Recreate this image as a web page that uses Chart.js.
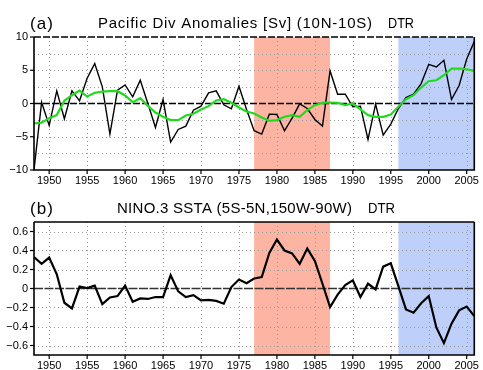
<!DOCTYPE html>
<html>
<head>
<meta charset="utf-8">
<script src="https://cdn.jsdelivr.net/npm/chart.js@4.4.1/dist/chart.umd.min.js"></script>
<style>
html,body{margin:0;padding:0;background:#fff;}
canvas{display:block;}
</style>
</head>
<body>
<canvas id="ca" width="483" height="185"></canvas>
<canvas id="cb" width="483" height="185"></canvas>
<script>
const years = [1948,1949,1950,1951,1952,1953,1954,1955,1956,1957,1958,1959,1960,1961,1962,1963,1964,1965,1966,1967,1968,1969,1970,1971,1972,1973,1974,1975,1976,1977,1978,1979,1980,1981,1982,1983,1984,1985,1986,1987,1988,1989,1990,1991,1992,1993,1994,1995,1996,1997,1998,1999,2000,2001,2002,2003,2004,2005,2006];

// (a) Pacific divergence anomalies [Sv], annual
const pacDiv = [-10.0,0.2,-3.3,1.9,-2.3,1.9,0.4,3.8,6.0,2.5,-4.6,2.0,2.8,1.0,3.5,0.0,-3.6,0.6,-5.8,-3.9,-3.4,-1.0,-0.4,1.6,1.9,-0.2,-0.8,2.6,-0.9,-4.1,-4.6,-1.6,-1.65,-4.1,-2.2,-0.05,-0.75,-2.4,-3.4,4.9,1.4,1.4,-0.5,-0.4,-5.4,-0.1,-4.75,-3.1,-0.75,0.9,1.4,3.0,5.9,5.5,6.5,0.6,2.7,6.7,9.3];
// (a) smoothed (green)
const pacDivSmooth = [-3.0,-2.9,-2.2,-1.75,0.4,1.25,1.95,1.05,1.6,1.8,1.85,1.85,1.2,0.2,0.8,-0.35,-1.35,-2.0,-2.5,-2.5,-1.8,-1.55,-0.9,-0.4,0.45,0.65,0.1,-0.6,-1.2,-1.5,-2.1,-2.6,-2.5,-2.0,-1.75,-2.0,-1.0,-0.25,0.1,0.15,0.1,-0.25,0.0,-0.9,-1.75,-2.0,-2.0,-1.65,-0.5,0.65,1.25,2.4,3.35,3.5,4.25,5.25,5.25,5.15,4.9];
// (b) NINO.3 SSTA
const nino3 = [0.33,0.26,0.325,0.15,-0.15,-0.21,0.02,0.005,0.03,-0.165,-0.095,-0.08,0.03,-0.14,-0.105,-0.11,-0.09,-0.09,0.14,-0.03,-0.09,-0.07,-0.125,-0.12,-0.13,-0.16,0.015,0.095,0.055,0.105,0.12,0.375,0.515,0.4,0.37,0.26,0.42,0.29,0.05,-0.195,-0.065,0.035,0.085,-0.09,0.05,-0.01,0.23,0.265,0.025,-0.22,-0.255,-0.155,-0.08,-0.41,-0.575,-0.37,-0.23,-0.19,-0.29];

const xTickYears = [1950,1955,1960,1965,1970,1975,1980,1985,1990,1995,2000,2005];
const yTicksA = [-10,-5,0,5,10];
const yTicksB = [-0.6,-0.4,-0.2,0,0.2,0.4,0.6];
const gridA = [-7.5,-5,-2.5,2.5,5,7.5];
const gridB = [-0.6,-0.4,-0.2,0.2,0.4,0.6];
const redPeriod = [1977,1987];
const bluePeriod = [1996,2006];
const titleA = ['(a)','Pacific Div Anomalies [Sv] (10N-10S)','DTR'];
const titleB = ['(b)','NINO.3 SSTA (5S-5N,150W-90W)','DTR'];

const FONT = '"Liberation Sans", Arial, Helvetica, sans-serif';
Chart.defaults.font.family = FONT;
Chart.defaults.font.size = 11;
Chart.defaults.color = '#000';

function pts(vals){ return years.map((yr,i)=>({x:yr, y:vals[i]})); }

function fitText(ctx, text, x0, x1, baseline, size){
  ctx.font = size + 'px ' + FONT;
  if ('letterSpacing' in ctx) ctx.letterSpacing = '0px';
  const w = ctx.measureText(text).width;
  const n = text.length;
  ctx.textAlign = 'left';
  ctx.textBaseline = 'alphabetic';
  if ('letterSpacing' in ctx && n > 1 && (x1 - x0) >= w){
    ctx.letterSpacing = ((x1 - x0 - w) / (n - 1)) + 'px';
    ctx.fillText(text, x0, baseline);
    ctx.letterSpacing = '0px';
  } else {
    ctx.save();
    ctx.translate(x0, baseline);
    ctx.scale((x1 - x0) / w, 1);
    ctx.fillText(text, 0, 0);
    ctx.restore();
  }
}

const panelPlugin = {
  id: 'panel',
  beforeDatasetsDraw(chart, args, o){
    const {ctx, chartArea:a, scales:{x, y}} = chart;
    ctx.save();
    const shade = (p, col) => {
      const x0 = x.getPixelForValue(p[0]), x1 = x.getPixelForValue(p[1]);
      ctx.fillStyle = col;
      ctx.fillRect(x0, a.top, x1 - x0, a.bottom - a.top);
    };
    shade(redPeriod, '#FDB4A2');
    shade(bluePeriod, '#BED0FA');
    ctx.strokeStyle = '#9A9A9A';
    ctx.lineWidth = 1;
    ctx.setLineDash([1,3]);
    xTickYears.forEach(v => {
      const px = Math.round(x.getPixelForValue(v)) + 0.5;
      ctx.beginPath(); ctx.moveTo(px, a.top); ctx.lineTo(px, a.bottom); ctx.stroke();
    });
    o.grid.forEach(v => {
      const py = Math.round(y.getPixelForValue(v)) + 0.5;
      ctx.beginPath(); ctx.moveTo(a.left, py); ctx.lineTo(a.right, py); ctx.stroke();
    });
    ctx.setLineDash(o.zeroDash);
    ctx.strokeStyle = o.zeroColor;
    ctx.lineWidth = o.zeroWidth;
    const pz = y.getPixelForValue(0);
    ctx.beginPath(); ctx.moveTo(a.left, pz); ctx.lineTo(a.right, pz); ctx.stroke();
    ctx.restore();
  },
  afterDatasetsDraw(chart, args, o){
    const {ctx, chartArea:a, scales:{x, y}} = chart;
    ctx.save();
    ctx.strokeStyle = '#000';
    ctx.lineWidth = 1.6;
    ctx.setLineDash([]);
    ctx.beginPath();
    ctx.moveTo(a.left, a.top); ctx.lineTo(a.left, a.bottom); ctx.lineTo(a.right, a.bottom); ctx.lineTo(a.right, a.top);
    ctx.stroke();
    ctx.setLineDash(o.topDash);
    ctx.beginPath(); ctx.moveTo(a.left, a.top); ctx.lineTo(a.right, a.top); ctx.stroke();
    ctx.setLineDash([]);
    ctx.lineWidth = 1.2;
    xTickYears.forEach(v => {
      const px = x.getPixelForValue(v);
      ctx.beginPath(); ctx.moveTo(px, a.bottom); ctx.lineTo(px, a.bottom + 4); ctx.stroke();
    });
    o.yTicks.forEach(v => {
      const py = y.getPixelForValue(v);
      ctx.beginPath(); ctx.moveTo(a.left - 4, py); ctx.lineTo(a.left, py); ctx.stroke();
    });
    ctx.fillStyle = '#000';
    const t = o.title;
    fitText(ctx, t.text[0], t.labelSpan[0], t.labelSpan[1], t.labelBase, 17);
    fitText(ctx, t.text[1], t.mainSpan[0], t.mainSpan[1], t.base, 15);
    fitText(ctx, t.text[2], t.dtrSpan[0], t.dtrSpan[1], t.base, 15);
    ctx.restore();
  }
};

function fmtA(v){ return (v < 0 ? '\u2212' : '') + Math.abs(v); }
function fmtB(v){ if (Math.abs(v) < 1e-9) return '0'; return (v < 0 ? '\u2212' : '') + Math.abs(v).toFixed(1); }

function makePanel(id, datasets, yMin, yMax, yTicks, fmt, panelOpts){
  return new Chart(document.getElementById(id), {
    type: 'line',
    data: { datasets },
    options: {
      responsive: false,
      animation: false,
      devicePixelRatio: 1,
      layout: { padding: { left: 0, right: 4, top: 37, bottom: 0 } },
      plugins: { legend: {display:false}, tooltip: {enabled:false}, title:{display:false}, panel: panelOpts },
      elements: { point: { radius: 0 }, line: { tension: 0 } },
      scales: {
        x: {
          type: 'linear', min: years[0], max: years[years.length-1],
          grid: { display: false, drawTicks: false },
          border: { display: false },
          afterBuildTicks: s => { s.ticks = xTickYears.map(v => ({value: v})); },
          afterFit: s => { s.height = 15; },
          ticks: { padding: 4, maxRotation: 0, autoSkip: false, callback: v => String(v), font: { size: 11 } }
        },
        y: {
          type: 'linear', min: yMin, max: yMax,
          grid: { display: false, drawTicks: false },
          border: { display: false },
          afterBuildTicks: s => { s.ticks = yTicks.map(v => ({value: v})); },
          afterFit: s => { s.width = 34; },
          ticks: { padding: 6, autoSkip: false, callback: v => fmt(v), font: { size: 11 } }
        }
      }
    },
    plugins: [panelPlugin]
  });
}

makePanel('ca', [
  { data: pts(pacDivSmooth), borderColor: '#20DA20', borderWidth: 2.2, fill: false },
  { data: pts(pacDiv), borderColor: '#000', borderWidth: 1.4, fill: false }
], -10, 10, yTicksA, fmtA, {
  grid: gridA, yTicks: yTicksA,
  zeroDash: [7,2], zeroColor: '#000', zeroWidth: 1.3, topDash: [7,2],
  title: { text: titleA, labelSpan: [30,53], labelBase: 28.5, mainSpan: [98,372], dtrSpan: [388,414], base: 27.5 }
});

makePanel('cb', [
  { data: pts(nino3), borderColor: '#000', borderWidth: 2.2, fill: false }
], -0.7, 0.7, yTicksB, fmtB, {
  grid: gridB, yTicks: yTicksB,
  zeroDash: [9,1.5], zeroColor: '#333', zeroWidth: 1.4, topDash: [],
  title: { text: titleB, labelSpan: [30,53], labelBase: 29, mainSpan: [117,352], dtrSpan: [368,395], base: 28.3 }
});
</script>
</body>
</html>
